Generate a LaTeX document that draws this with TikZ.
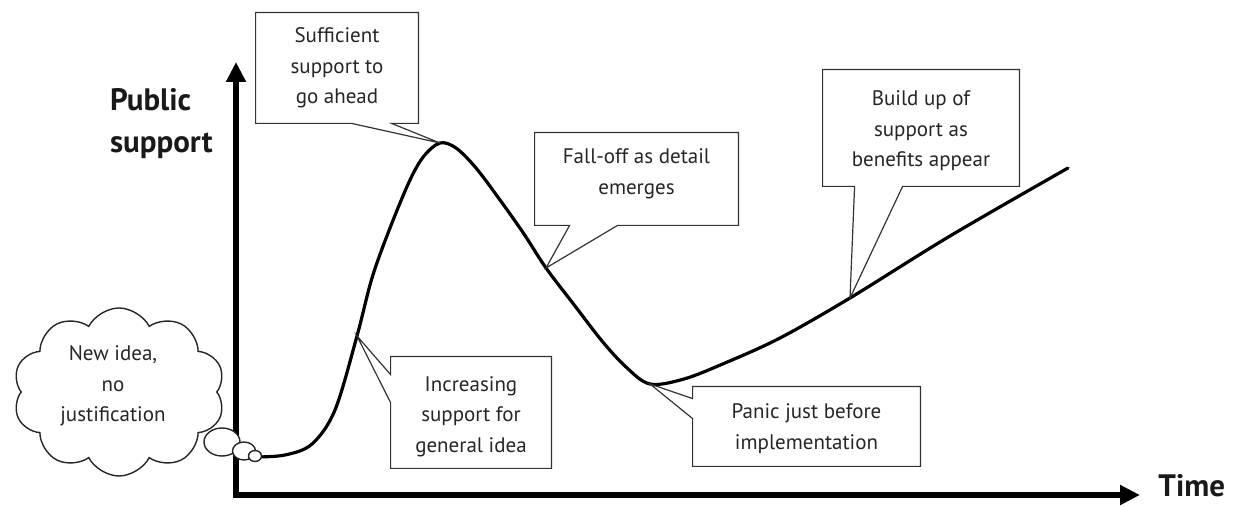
\documentclass[tikz,border=0pt]{standalone}
\usepackage{fontspec}
\setmainfont{PT Sans}
\usetikzlibrary{shapes.symbols,shapes.geometric,calc,arrows.meta}
\begin{document}
\begin{tikzpicture}[x=0.5pt,y=-0.5pt,
  txt/.style={font=\fontsize{10.5}{15.3}\selectfont, text=black!85, align=center},
  callout/.style={draw=black!80, line width=0.6pt, fill=white, line join=miter},
  boxnode/.style={txt, inner sep=0pt, minimum width=#1},
  axis/.style={line width=2.6pt, -{Triangle[length=10pt,width=9.5pt]}},
  curveline/.style={line width=1.6pt, line cap=round},
  axlabel/.style={font=\bfseries\fontsize{15.5}{21}\selectfont, text=black!90, align=left}]
\useasboundingbox (0,0) rectangle (1238,507);

% axes
\coordinate (O) at (236,495);
\coordinate (ytop) at (236,62);
\coordinate (xend) at (1140,495);
\draw[axis] ($(O)+(0,3)$) -- (ytop);
\draw[axis] ($(O)+(-1.3,0)$) -- (xend);
\node[axlabel, anchor=west] (ylab) at (103,124) {Public\\support};
\node[axlabel, anchor=west, inner sep=0pt] (xlab) at (1158,486) {Time};

% curve
\coordinate (c0) at (255,457);
\coordinate (t4) at (357,336);
\coordinate (t1) at (440,143);
\coordinate (t2) at (546,268);
\coordinate (t5) at (650,384);
\coordinate (t3) at (850,298);
\coordinate (cend) at (1068,168);
\draw[curveline] plot[smooth, tension=0.55] coordinates {
  (c0) (285,455) (312,444) (335,410) (t4) (372,278) (390,228) (410,180)
  (424,156) (t1) (456,148) (476,168) (500,200) (524,234) (t2) (575,306)
  (602,341) (626,367) (t5) (684,379) (725,363) (780,338) (t3) (950,236) (cend)};

% cloud and bubbles
\node[cloud, cloud puffs=10, cloud puff arc=125, aspect=1.3, draw=black!85, line width=0.7pt,
  minimum width=106pt, minimum height=84pt, fill=white] (cloud) at (119,392) {};
\node[txt] (cloudtxt) at (113,386) {New idea,\\no\\justification};
\node[ellipse, draw=black!85, line width=0.7pt, fill=white, minimum width=18pt, minimum height=14pt, inner sep=0pt] (b1) at (222,442) {};
\node[ellipse, draw=black!85, line width=0.7pt, fill=white, minimum width=11.5pt, minimum height=9pt, inner sep=0pt] (b2) at (244,451) {};
\node[ellipse, draw=black!85, line width=0.7pt, fill=white, minimum width=6.5pt, minimum height=5.5pt, inner sep=0pt] (b3) at (255,456) {};

% callout 1
\node[boxnode=81pt, minimum height=55pt] (n1) at (337,68) {};
\draw[callout] (n1.north west) -- (n1.north east) -- (n1.south east) -- ($(n1.south west)+(136,0)$) -- (t1) -- ($(n1.south west)+(96,0)$) -- (n1.south west) -- cycle;
\node[txt] at (n1.center) {Sufficient\\support to\\go ahead};

% callout 2
\node[boxnode=101.5pt, minimum height=46pt] (n2) at (636.5,179) {};
\draw[callout] (n2.north west) -- (n2.north east) -- (n2.south east) -- ($(n2.south west)+(83,0)$) -- (t2) -- ($(n2.south west)+(35,0)$) -- (n2.south west) -- cycle;
\node[txt] at ($(n2.center)+(0,-5)$) {Fall-off as detail\\emerges};

% callout 3
\node[boxnode=98pt, minimum height=58pt] (n3) at (921,128) {};
\draw[callout] (n3.north west) -- (n3.north east) -- (n3.south east) -- ($(n3.south west)+(80,0)$) -- (t3) -- ($(n3.south west)+(32,0)$) -- (n3.south west) -- cycle;
\node[txt] at ($(n3.center)+(0,3)$) {Build up of\\support as\\benefits appear};

% callout 4
\node[boxnode=80pt, minimum height=55.5pt] (n4) at (471,412.5) {};
\draw[callout] (n4.north west) -- (n4.north east) -- (n4.south east) -- (n4.south west) -- ($(n4.north west)+(0,46)$) -- (t4) -- ($(n4.north west)+(0,18)$) -- cycle;
\node[txt] at ($(n4.center)+(0,4)$) {Increasing\\support for\\general idea};

% callout 5
\node[boxnode=113.5pt, minimum height=39.5pt] (n5) at (806.5,426.5) {};
\draw[callout] (n5.north west) -- (n5.north east) -- (n5.south east) -- (n5.south west) -- ($(n5.north west)+(0,32)$) -- (t5) -- ($(n5.north west)+(0,12)$) -- cycle;
\node[txt] at ($(n5.center)+(0,2)$) {Panic just before\\implementation};
\end{tikzpicture}
\end{document}
